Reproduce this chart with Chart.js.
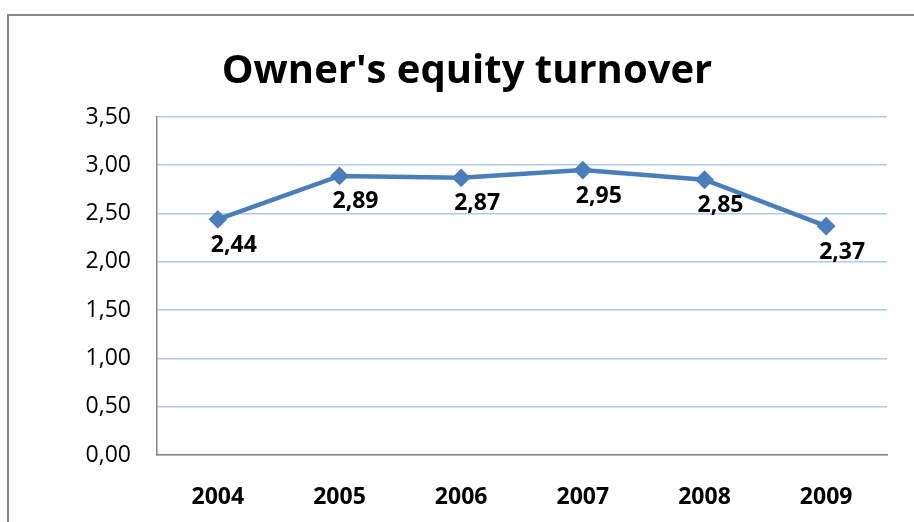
<!DOCTYPE html>
<html>
<head>
<meta charset="utf-8">
<script src="https://cdn.jsdelivr.net/npm/chart.js@4"></script>
<style>
html,body{margin:0;padding:0;background:#fff;}
canvas{display:block;}
</style>
</head>
<body>
<canvas id="c" width="914" height="522"></canvas>
<script>
const titleText = "Owner's equity turnover";
const years = ["2004", "2005", "2006", "2007", "2008", "2009"];
const turnover = [2.44, 2.89, 2.87, 2.95, 2.85, 2.37];
const yMin = 0, yMax = 3.5, yStep = 0.5;

const fmt = v => v.toFixed(2).replace('.', ',');

const framePlugin = {
  id: 'frame',
  beforeDraw(chart) {
    const ctx = chart.ctx;
    ctx.save();
    ctx.fillStyle = '#fff';
    ctx.fillRect(0, 0, chart.width, chart.height);
    ctx.strokeStyle = '#888888';
    ctx.lineWidth = 2;
    ctx.beginPath();
    ctx.moveTo(8, chart.height);
    ctx.lineTo(8, 15);
    ctx.lineTo(chart.width, 15);
    ctx.stroke();
    ctx.font = 'bold 40px "Open Sans"';
    ctx.fillStyle = '#000';
    ctx.textAlign = 'center';
    ctx.textBaseline = 'alphabetic';
    ctx.fillText(titleText, 467, 83);
    ctx.restore();
  }
};

const labelPlugin = {
  id: 'valueLabels',
  afterDatasetsDraw(chart) {
    const ctx = chart.ctx;
    const meta = chart.getDatasetMeta(0);
    ctx.save();
    ctx.font = 'bold 23px "Open Sans"';
    ctx.fillStyle = '#000';
    ctx.textAlign = 'center';
    ctx.textBaseline = 'middle';
    meta.data.forEach((pt, i) => {
      ctx.fillText(fmt(turnover[i]), pt.x + 16, pt.y + 26);
    });
    ctx.restore();
  }
};

new Chart(document.getElementById('c'), {
  type: 'line',
  data: {
    labels: years,
    datasets: [{
      data: turnover,
      borderColor: '#4A7EBB',
      backgroundColor: '#4A7EBB',
      borderWidth: 4.5,
      pointStyle: 'rectRot',
      pointRadius: 8,
      pointBorderWidth: 2,
      pointBackgroundColor: '#4A7EBB',
      pointBorderColor: '#4A7EBB',
      tension: 0
    }]
  },
  options: {
    responsive: false,
    animation: false,
    devicePixelRatio: 1,
    layout: { padding: { left: 0, right: 27, top: 117, bottom: 0 } },
    plugins: { legend: { display: false }, title: { display: false }, tooltip: { enabled: false } },
    scales: {
      x: {
        offset: true,
        grid: { display: false, drawTicks: false },
        border: { display: true, color: '#868686', width: 1.5 },
        ticks: { color: '#000', font: { family: 'Open Sans', size: 23, weight: 'bold' }, padding: 29, maxRotation: 0 },
        afterFit(scale) { scale.height = 67; }
      },
      y: {
        min: yMin, max: yMax,
        grid: { color: '#b4c8ea', lineWidth: 1.6, drawTicks: false },
        border: { display: true, color: '#868686', width: 1.5 },
        ticks: { stepSize: yStep, color: '#000', font: { family: 'Open Sans', size: 23 }, padding: 26, callback: v => fmt(v) },
        afterFit(scale) { scale.width = 157; }
      }
    }
  },
  plugins: [framePlugin, labelPlugin]
});
</script>
</body>
</html>
